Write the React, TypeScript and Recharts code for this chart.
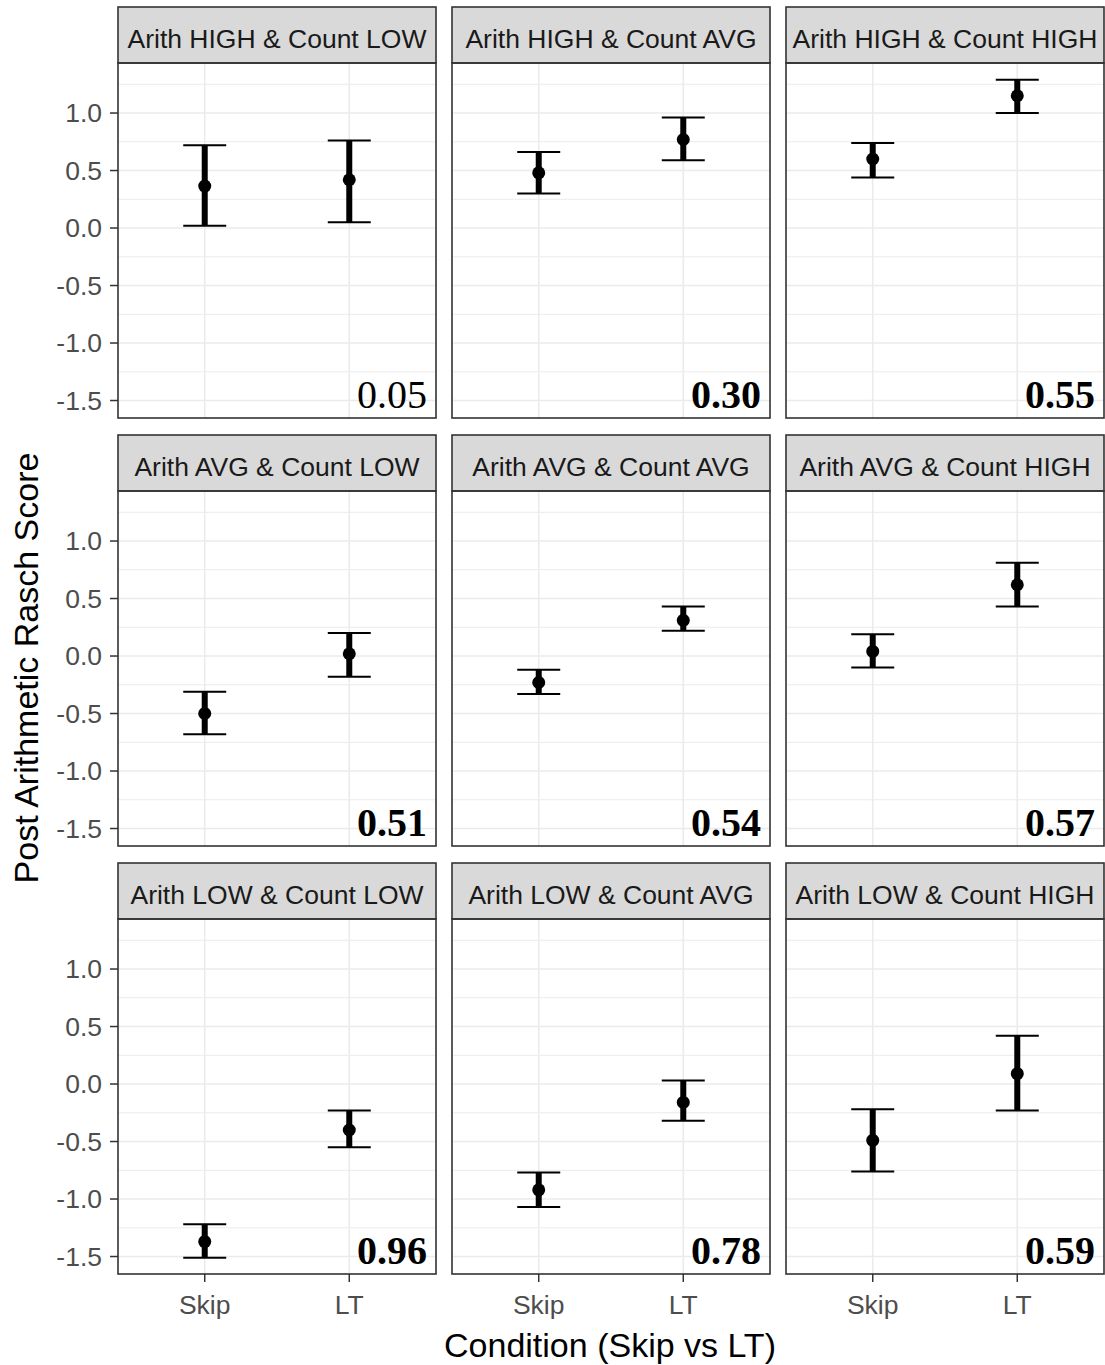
import { ComposedChart, ErrorBar, ReferenceLine, Scatter, XAxis, YAxis } from 'recharts';

const panelTitles = [
  'Arith HIGH & Count LOW',
  'Arith HIGH & Count AVG',
  'Arith HIGH & Count HIGH',
  'Arith AVG & Count LOW',
  'Arith AVG & Count AVG',
  'Arith AVG & Count HIGH',
  'Arith LOW & Count LOW',
  'Arith LOW & Count AVG',
  'Arith LOW & Count HIGH',
];
const conditions = ['Skip', 'LT'];
// [Skip, LT] per panel
const meanScores = [
  [0.365, 0.42], [0.48, 0.77], [0.6, 1.15],
  [-0.5, 0.02], [-0.23, 0.31], [0.04, 0.62],
  [-1.37, -0.4], [-0.92, -0.16], [-0.49, 0.09],
];
const lowerCI = [
  [0.02, 0.05], [0.3, 0.59], [0.44, 1.0],
  [-0.68, -0.18], [-0.33, 0.22], [-0.1, 0.43],
  [-1.51, -0.55], [-1.07, -0.32], [-0.76, -0.23],
];
const upperCI = [
  [0.72, 0.76], [0.66, 0.96], [0.74, 1.29],
  [-0.31, 0.2], [-0.12, 0.43], [0.19, 0.81],
  [-1.22, -0.23], [-0.77, 0.03], [-0.22, 0.42],
];
const effectLabels = ['0.05', '0.30', '0.55', '0.51', '0.54', '0.57', '0.96', '0.78', '0.59'];
const yTicks = [-1.5, -1, -0.5, 0, 0.5, 1];
const yMinor = [-1.25, -0.75, -0.25, 0.25, 0.75, 1.25];

const colLeft = [118, 452, 786];
const stripTop = [7, 435, 863];
const stripH = 56;
const plotW = 318;
const plotH = 355;
const yAxisW = 118;
const xAxisH = 70;
const sans = '"Liberation Sans", Arial, sans-serif';

function Panel({ idx }: { idx: number }) {
  const r = Math.floor(idx / 3);
  const c = idx % 3;
  const showY = c === 0;
  const showX = r === 2;
  const data = conditions.map((name, j) => ({
    x: j + 1,
    name,
    y: meanScores[idx][j],
    err: [meanScores[idx][j] - lowerCI[idx][j], upperCI[idx][j] - meanScores[idx][j]],
  }));
  const left = colLeft[c] - (showY ? yAxisW : 0);
  const top = stripTop[r] + stripH;
  return (
    <div style={{ position: 'absolute', left, top }}>
      <ComposedChart
        width={plotW + (showY ? yAxisW : 0)}
        height={plotH + (showX ? xAxisH : 0)}
        margin={{ top: 0, right: 0, bottom: 0, left: 0 }}
      >
        <XAxis
          type="number"
          dataKey="x"
          domain={[0.4, 2.6]}
          ticks={[1, 2]}
          tickFormatter={(v) => conditions[v - 1]}
          hide={!showX}
          height={xAxisH}
          axisLine={false}
          tickLine={{ stroke: '#333333', strokeWidth: 1.5 }}
          tickSize={8}
          tickMargin={13}
          tick={{ fill: '#4d4d4d', fontSize: 26.5, fontFamily: sans }}
          interval={0}
        />
        <YAxis
          type="number"
          domain={[-1.652, 1.435]}
          ticks={yTicks}
          tickFormatter={(v) => Number(v).toFixed(1)}
          hide={!showY}
          width={yAxisW}
          axisLine={false}
          tickLine={{ stroke: '#333333', strokeWidth: 1.5 }}
          tickSize={8}
          tickMargin={8}
          tick={{ fill: '#4d4d4d', fontSize: 26.5, fontFamily: sans }}
          interval={0}
          allowDataOverflow
        />
        {yMinor.map((v) => (
          <ReferenceLine key={'m' + v} y={v} stroke="#ebebeb" strokeWidth={1} />
        ))}
        {yTicks.map((v) => (
          <ReferenceLine key={'M' + v} y={v} stroke="#ebebeb" strokeWidth={1.6} />
        ))}
        {[1, 2].map((v) => (
          <ReferenceLine key={'v' + v} x={v} stroke="#ebebeb" strokeWidth={1.6} />
        ))}
        <Scatter
          data={data}
          dataKey="y"
          isAnimationActive={false}
          shape={(p: any) => <circle cx={p.cx} cy={p.cy} r={6.5} fill="#000000" />}
        >
          <ErrorBar dataKey="err" direction="y" width={0} stroke="#000000" strokeWidth={6} isAnimationActive={false} />
          <ErrorBar dataKey="err" direction="y" width={21.5} stroke="#000000" strokeWidth={2} isAnimationActive={false} />
        </Scatter>
      </ComposedChart>
    </div>
  );
}

export default function App() {
  const idxs = panelTitles.map((_, i) => i);
  return (
    <div style={{ position: 'absolute', left: 0, top: 0, width: 1105, height: 1365, background: '#ffffff' }}>
      {idxs.map((i) => (
        <Panel key={i} idx={i} />
      ))}
      <svg
        width={1105}
        height={1365}
        style={{ position: 'absolute', left: 0, top: 0, pointerEvents: 'none' }}
      >
        {idxs.map((i) => {
          const r = Math.floor(i / 3);
          const c = i % 3;
          const x0 = colLeft[c];
          const y0 = stripTop[r];
          return (
            <g key={i}>
              <rect x={x0} y={y0} width={plotW} height={stripH} fill="#d9d9d9" stroke="#333333" strokeWidth={1.6} />
              <text
                x={x0 + plotW / 2}
                y={y0 + 41}
                textAnchor="middle"
                fontFamily={sans}
                fontSize={26.5}
                fill="#1a1a1a"
              >
                {panelTitles[i]}
              </text>
              <rect x={x0} y={y0 + stripH} width={plotW} height={plotH} fill="none" stroke="#333333" strokeWidth={1.6} />
              <text
                x={x0 + plotW - 9}
                y={y0 + stripH + plotH - 10}
                textAnchor="end"
                fontFamily='"Liberation Serif", "Times New Roman", serif'
                fontSize={40}
                fontWeight={i === 0 ? 400 : 700}
                fill="#000000"
              >
                {effectLabels[i]}
              </text>
            </g>
          );
        })}
        <text
          transform="translate(38, 668) rotate(-90)"
          textAnchor="middle"
          fontFamily={sans}
          fontSize={34}
          fill="#000000"
        >
          Post Arithmetic Rasch Score
        </text>
        <text x={610} y={1357} textAnchor="middle" fontFamily={sans} fontSize={34} fill="#000000">
          Condition (Skip vs LT)
        </text>
      </svg>
    </div>
  );
}
